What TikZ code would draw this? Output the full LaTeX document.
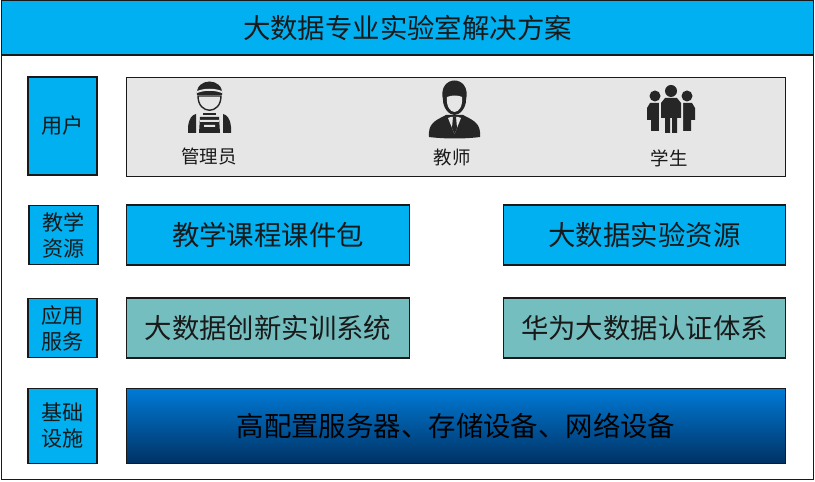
\documentclass[tikz,border=0pt]{standalone}
\usepackage{fontspec}
\setmainfont{Noto Sans CJK SC}
\definecolor{skyfill}{RGB}{0,176,240}
\definecolor{tealfill}{RGB}{117,190,192}
\definecolor{greyfill}{RGB}{230,230,230}
\definecolor{iconfill}{RGB}{38,38,38}
\tikzset{
  box/.style={draw=black!90, line width=0.65pt, inner sep=0pt, align=center},
  bigtext/.style={font=\fontsize{15.6}{18}\selectfont, text=black!90},
  smalltext/.style={font=\fontsize{12}{14.8}\selectfont, text=black!90},
  icontext/.style={font=\fontsize{10.5}{12}\selectfont, text=black!90}
}
\begin{document}
\begin{tikzpicture}[x=0.02cm, y=-0.02cm]
  \useasboundingbox (0,0) rectangle (815,482);
  \node[box, fill=white, minimum width=16.26cm, minimum height=9.56cm] (frame) at (407.5,240.5) {};
  \node[box, fill=skyfill, bigtext, minimum width=16.26cm, minimum height=1.1cm] (title) at (407.5,27.5) {大数据专业实验室解决方案};

  \node[box, fill=skyfill, smalltext, minimum width=1.38cm, minimum height=1.96cm] (user) at (62.5,126) {\raisebox{1.2pt}{用户}};
  \node[box, fill=skyfill, smalltext, minimum width=1.38cm, minimum height=1.18cm] (teach) at (63.5,235) {教学\\资源};
  \node[box, fill=skyfill, smalltext, minimum width=1.38cm, minimum height=1.18cm] (app) at (62.5,328) {应用\\服务};
  \node[box, fill=skyfill, smalltext, minimum width=1.38cm, minimum height=1.5cm] (base) at (62.5,426) {基础\\设施};

  \node[box, fill=greyfill, minimum width=13.18cm, minimum height=1.98cm] (users) at (456,127) {};
  \node[box, fill=skyfill, bigtext, minimum width=5.66cm, minimum height=1.2cm] (course) at (268,235) {教学课程课件包};
  \node[box, fill=skyfill, bigtext, minimum width=5.64cm, minimum height=1.2cm] (lab) at (644.5,235) {大数据实验资源};
  \node[box, fill=tealfill, bigtext, minimum width=5.66cm, minimum height=1.2cm] (train) at (268,328) {大数据创新实训系统};
  \node[box, fill=tealfill, bigtext, minimum width=5.64cm, minimum height=1.2cm] (cert) at (644.5,328) {华为大数据认证体系};
  \node[box, top color={rgb,255:red,0;green,122;blue,214}, bottom color={rgb,255:red,0;green,50;blue,100}, font=\fontsize{15.6}{18}\selectfont, text=black, minimum width=13.18cm, minimum height=1.5cm] (server) at (456,426) {高配置服务器、存储设备、网络设备};

  \node[icontext, inner sep=0pt] (admin) at (209,156.5) {管理员};
  \node[icontext, inner sep=0pt] (teacher) at (452,158) {教师};
  \node[icontext, inner sep=0pt] (student) at (669,158) {学生};

  % admin
  \fill[iconfill] (197,95) .. controls (195,77) and (224,77) .. (222,95) -- cycle;
  \fill[greyfill] (197,91) .. controls (205,88) and (214,88) .. (222,91) -- (222,93) .. controls (214,90) and (205,90) .. (197,93) -- cycle;
  \draw[iconfill, line width=0.8pt, fill=greyfill] (198,96) .. controls (198,115) and (221,115) .. (221,96) -- cycle;
  \draw[iconfill, line width=0.8pt] (203,114) -- (216,114);
  \fill[iconfill] (188,133) -- (188,127) .. controls (189,118) and (192,115) .. (196,114) -- (196,133) -- cycle;
  \fill[iconfill] (231,133) -- (231,127) .. controls (230,118) and (227,115) .. (223,114) -- (223,133) -- cycle;
  \fill[iconfill] (200,117) -- (219,117) -- (220,133) -- (199,133) -- cycle;
  \fill[greyfill] (200,120) rectangle (219,122) (204,125) rectangle (215,127);

  % teacher
  \fill[iconfill] (443,100) .. controls (437,74) and (472,74) .. (466,100) .. controls (466,108) and (460,115) .. (454.5,115) .. controls (449,115) and (443,108) .. (443,100) -- cycle;
  \fill[greyfill] (447,97) .. controls (452,95) and (458,95) .. (462,97) .. controls (463,106) and (459,112) .. (454.5,112) .. controls (450,112) and (446,106) .. (447,97) -- cycle;
  \fill[iconfill] (429,137) .. controls (428,124) and (434,121) .. (446,115) -- (463,115) .. controls (475,121) and (481,124) .. (480,137) .. controls (465,139) and (445,139) .. (429,137) -- cycle;
  \fill[greyfill] (448,118) -- (454.5,134) -- (461,118) -- (458,117) -- (451,117) -- cycle;
  \fill[iconfill] (453,117) -- (456,117) -- (457,128) -- (454.5,134) -- (452,128) -- cycle;

  % students
  \fill[iconfill] (671,91) circle (6);
  \fill[iconfill] (655,96) circle (5.5);
  \fill[iconfill] (687,96) circle (5.5);
  \fill[iconfill] (647,120) -- (647,108) -- (650,103) -- (660,103) -- (660,131) -- (651,131) -- (651,120) -- cycle;
  \fill[iconfill] (695,120) -- (695,108) -- (692,103) -- (682,103) -- (682,131) -- (691,131) -- (691,120) -- cycle;
  \fill[greyfill] (659,102) rectangle (661,132) (681,102) rectangle (683,132);
  \fill[iconfill] (661,118) -- (661,103) -- (665,98) -- (677,98) -- (681,103) -- (681,118) -- (677,118) -- (677,133) -- (672,133) -- (672,118) -- (670,118) -- (670,133) -- (665,133) -- (665,118) -- cycle;
\end{tikzpicture}
\end{document}
